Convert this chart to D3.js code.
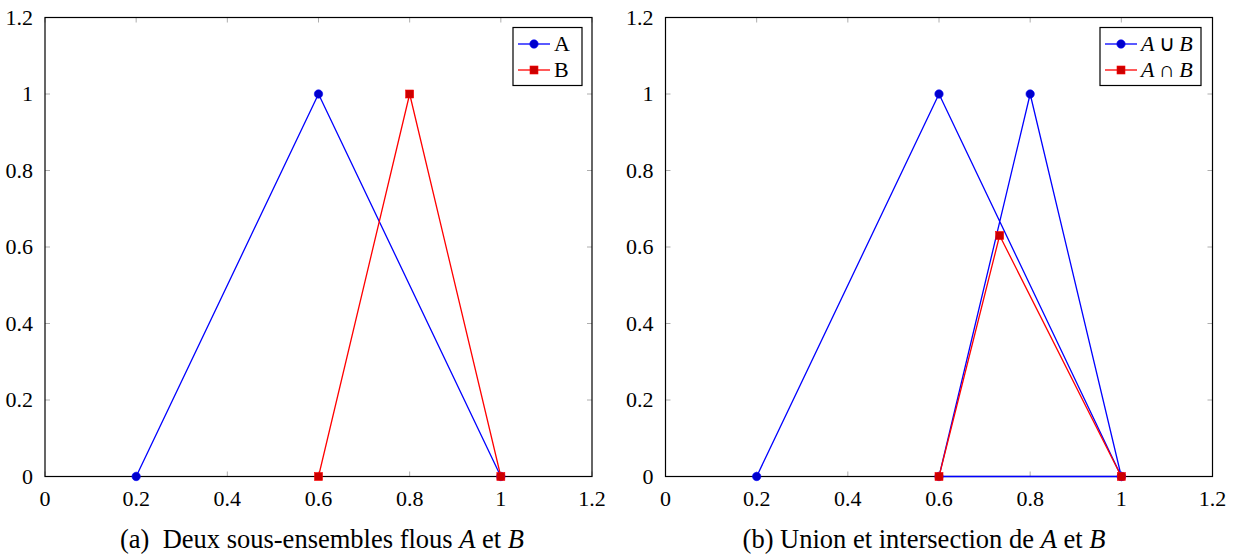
<!DOCTYPE html>
<html>
<head>
<meta charset="utf-8">
<script src="https://cdn.jsdelivr.net/npm/d3@7"></script>
</head>
<body style="margin:0; background:#fff">
<svg id="chart" width="1235" height="557" font-family="Liberation Serif, Times New Roman, Tinos, serif"></svg>
<script>
// tick values shared by both panels
const xTicks = [0, 0.2, 0.4, 0.6, 0.8, 1, 1.2];
const yTicks = [0, 0.2, 0.4, 0.6, 0.8, 1, 1.2];

// panel (a)
const setA = [[0.2, 0], [0.6, 1], [1, 0]];
const setB = [[0.6, 0], [0.8, 1], [1, 0]];

// panel (b)
const unionAB = [[0.2, 0], [0.6, 1], [1, 0], [0.6, 0], [0.8, 1], [1, 0]];
const interAB = [[0.6, 0], [0.733, 0.63], [1, 0]];

const blue = "#0000ff", blueFill = "#0000cc";
const red = "#ff0000", redFill = "#cc0000";

const svg = d3.select("#chart");

function txt(sel, size) {
  return sel.append("text")
    .attr("font-family", "Liberation Serif, Times New Roman, Tinos, serif")
    .attr("style", `font-family: 'Liberation Serif', 'Times New Roman', Tinos, serif; font-size: ${size}px`);
}

function drawPanel(opts) {
  const x = d3.scaleLinear().domain([0, 1.2]).range([opts.left, opts.left + 547]);
  const y = d3.scaleLinear().domain([0, 1.2]).range([476.5, 17.5]);
  const g = svg.append("g");

  // ticks (inside, on all four sides)
  const tickLen = 5;
  xTicks.forEach(t => {
    g.append("line").attr("x1", x(t)).attr("x2", x(t))
      .attr("y1", y(0)).attr("y2", y(0) - tickLen).attr("stroke", "#999").attr("stroke-width", 0.8);
    g.append("line").attr("x1", x(t)).attr("x2", x(t))
      .attr("y1", y(1.2)).attr("y2", y(1.2) + tickLen).attr("stroke", "#999").attr("stroke-width", 0.8);
    txt(g, 22).attr("x", x(t)).attr("y", y(0) + 29)
      .attr("text-anchor", "middle").text(d3.format("~g")(t));
  });
  yTicks.forEach(t => {
    g.append("line").attr("x1", x(0)).attr("x2", x(0) + tickLen)
      .attr("y1", y(t)).attr("y2", y(t)).attr("stroke", "#999").attr("stroke-width", 0.8);
    g.append("line").attr("x1", x(1.2)).attr("x2", x(1.2) - tickLen)
      .attr("y1", y(t)).attr("y2", y(t)).attr("stroke", "#999").attr("stroke-width", 0.8);
    txt(g, 22).attr("x", x(0) - 12).attr("y", y(t) + 7)
      .attr("text-anchor", "end").text(d3.format("~g")(t));
  });

  // frame
  g.append("rect").attr("x", x(0)).attr("y", y(1.2))
    .attr("width", x(1.2) - x(0)).attr("height", y(0) - y(1.2))
    .attr("fill", "none").attr("stroke", "#000").attr("stroke-width", 1.2);

  const line = d3.line().x(d => x(d[0])).y(d => y(d[1]));

  opts.series.forEach(s => {
    g.append("path").datum(s.data).attr("d", line)
      .attr("fill", "none").attr("stroke", s.color).attr("stroke-width", 1.3)
      .attr("stroke-linejoin", "round");
    if (s.mark === "circle") {
      g.selectAll(null).data(s.data).join("circle")
        .attr("cx", d => x(d[0])).attr("cy", d => y(d[1])).attr("r", 4.2)
        .attr("fill", s.fill).attr("stroke", s.color).attr("stroke-width", 0.6);
    } else {
      g.selectAll(null).data(s.data).join("rect")
        .attr("x", d => x(d[0]) - 4).attr("y", d => y(d[1]) - 4)
        .attr("width", 8).attr("height", 8)
        .attr("fill", s.fill).attr("stroke", s.color).attr("stroke-width", 0.6);
    }
  });

  // legend
  const lg = g.append("g");
  lg.append("rect").attr("x", opts.legend.x).attr("y", 27.5)
    .attr("width", opts.legend.w).attr("height", 58)
    .attr("fill", "#fff").attr("stroke", "#000").attr("stroke-width", 1.2);
  opts.series.forEach((s, i) => {
    const cy = 44 + i * 26;
    const lx = opts.legend.x + 5;
    lg.append("line").attr("x1", lx).attr("x2", lx + 32).attr("y1", cy).attr("y2", cy)
      .attr("stroke", s.color).attr("stroke-width", 1.3);
    if (s.mark === "circle") {
      lg.append("circle").attr("cx", lx + 16).attr("cy", cy).attr("r", 4.2)
        .attr("fill", s.fill).attr("stroke", s.color).attr("stroke-width", 0.6);
    } else {
      lg.append("rect").attr("x", lx + 12).attr("y", cy - 4).attr("width", 8).attr("height", 8)
        .attr("fill", s.fill).attr("stroke", s.color).attr("stroke-width", 0.6);
    }
    const t = txt(lg, 22).attr("x", lx + 36).attr("y", cy + 7);
    s.label(t);
  });

  // caption
  const cap = txt(svg, 26.5).attr("x", opts.captionX).attr("y", 548)
    .attr("text-anchor", "middle");
  opts.caption(cap);
}

drawPanel({
  left: 45,
  captionX: 322,
  series: [
    { data: setA, color: blue, fill: blueFill, mark: "circle", label: t => t.text("A") },
    { data: setB, color: red, fill: redFill, mark: "rect", label: t => t.text("B") }
  ],
  legend: { x: 513, w: 69 },
  caption: t => {
    t.append("tspan").text("(a)\u00A0 Deux sous-ensembles flous ");
    t.append("tspan").attr("font-style", "italic").text("A");
    t.append("tspan").text(" et ");
    t.append("tspan").attr("font-style", "italic").text("B");
  }
});

drawPanel({
  left: 665.5,
  captionX: 924,
  series: [
    { data: unionAB, color: blue, fill: blueFill, mark: "circle",
      label: t => { t.append("tspan").attr("font-style", "italic").text("A");
                    t.append("tspan").text("\u2009\u222A\u2009");
                    t.append("tspan").attr("font-style", "italic").text("B"); } },
    { data: interAB, color: red, fill: redFill, mark: "rect",
      label: t => { t.append("tspan").attr("font-style", "italic").text("A");
                    t.append("tspan").text("\u2009\u2229\u2009");
                    t.append("tspan").attr("font-style", "italic").text("B"); } }
  ],
  legend: { x: 1100, w: 101 },
  caption: t => {
    t.append("tspan").text("(b) Union et intersection de ");
    t.append("tspan").attr("font-style", "italic").text("A");
    t.append("tspan").text(" et ");
    t.append("tspan").attr("font-style", "italic").text("B");
  }
});
</script>
</body>
</html>
